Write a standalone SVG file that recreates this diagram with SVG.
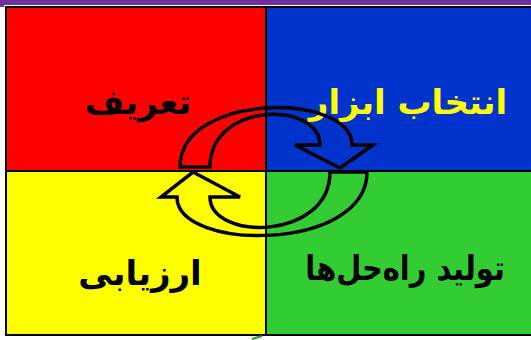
<svg xmlns="http://www.w3.org/2000/svg" width="531" height="340" viewBox="0 0 531 340">
<style>
.q{stroke:#000;stroke-width:2}
.t{font-family:"DejaVu Sans","Noto Sans",sans-serif;font-weight:bold;font-size:34px;text-anchor:middle}
.arr{fill:none;stroke:#000;stroke-width:3.5;stroke-linejoin:miter}
</style>
<rect x="0" y="0" width="531" height="340" fill="#fff"/>
<rect x="0" y="0" width="531" height="5" fill="#7030A0"/>
<rect x="0" y="0" width="4" height="7" fill="#7030A0"/>
<g id="node-define">
<rect class="q" x="6" y="7" width="260" height="164" fill="#FF0000"/>
<text class="t" x="138" y="114" fill="#000" direction="rtl">تعریف</text>
</g>
<g id="node-tools">
<rect class="q" x="266" y="7" width="270" height="164" fill="#0033CC"/>
<text class="t" x="408" y="114" fill="#FFFF00" direction="rtl">انتخاب ابزار</text>
</g>
<g id="node-evaluate">
<rect class="q" x="6" y="171" width="260" height="164" fill="#FFFF00"/>
<text class="t" x="140" y="285" fill="#000" direction="rtl">ارزیابی</text>
</g>
<g id="node-solutions">
<rect class="q" x="266" y="171" width="270" height="164" fill="#33CC33"/>
<text class="t" transform="translate(405,280) scale(0.85,1)" x="0" y="0" fill="#000" direction="rtl">تولید راه‌حل‌ها</text>
</g>
<g id="connectors">
<path class="arr" d="M180,167 C180,92 352,92 352,145 L373,145 L340,168 L295,145 L320,145 C320,101 210,101 210,167 Z"/>
<path class="arr" d="M367,172 C367,252 177,252 177,197 L161,197 L193,172 L240,197 L210,197 C210,241 330,241 330,172 Z"/>
</g>
<path d="M252,339 L262,336" stroke="#2a9a2a" stroke-width="2"/>
</svg>
